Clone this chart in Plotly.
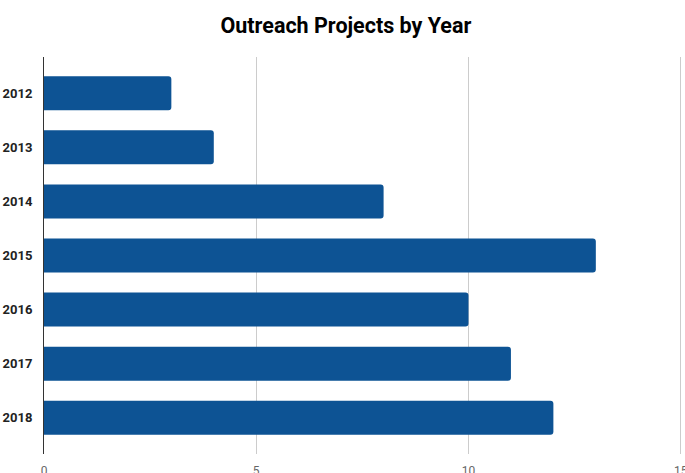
import plotly.graph_objects as go

# Outreach project counts per year
years = ["2012", "2013", "2014", "2015", "2016", "2017", "2018"]
projects = [3, 4, 8, 13, 10, 11, 12]
x_ticks = [0, 5, 10, 15]

fig = go.Figure(
    go.Bar(
        x=projects,
        y=years,
        orientation="h",
        marker=dict(color="#0d5394", line=dict(width=0)),
        width=0.63,
    )
)

fig.update_layout(
    width=685,
    height=473,
    margin=dict(l=44, r=3, t=57, b=19, autoexpand=False),
    paper_bgcolor="white",
    plot_bgcolor="white",
    barcornerradius=3,
    showlegend=False,
    title=dict(
        text="<b>Outreach Projects by Year</b>",
        x=0.505,
        xanchor="center",
        y=0.947,
        yanchor="middle",
        font=dict(family="Roboto", size=21.5, color="#000000"),
    ),
    xaxis=dict(
        range=[0, 15.03],
        tickvals=x_ticks,
        showgrid=True,
        gridcolor="#cccccc",
        gridwidth=1,
        zeroline=False,
        showline=False,
        ticks="",
        automargin=False,
        ticklabelstandoff=8,
        ticklabeloverflow="allow",
        tickfont=dict(family="Roboto", size=12, color="#666666"),
        fixedrange=True,
    ),
    yaxis=dict(
        type="category",
        categoryorder="array",
        categoryarray=years,
        range=[6.67, -0.67],
        showline=True,
        linecolor="#333333",
        linewidth=1,
        showgrid=False,
        ticks="",
        automargin=False,
        ticklabelstandoff=8,
        tickfont=dict(family="Roboto", size=13, color="#222222", weight="bold"),
        fixedrange=True,
    ),
)

fig.write_html("out.html")
